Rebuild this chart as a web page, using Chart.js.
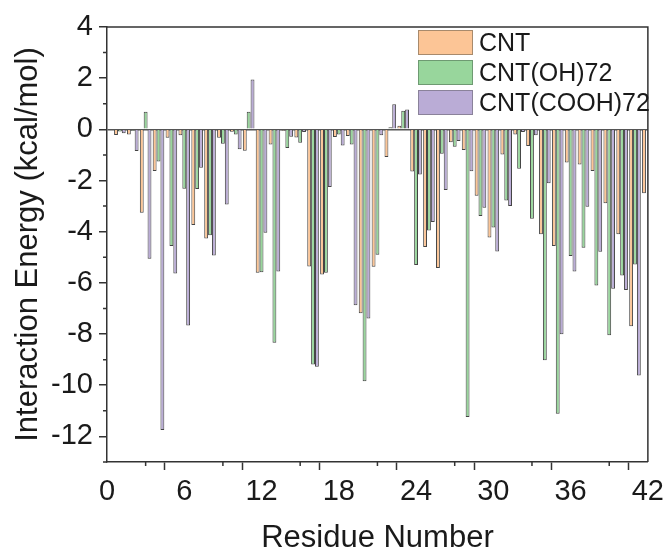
<!DOCTYPE html>
<html>
<head>
<meta charset="utf-8">
<script src="https://cdn.jsdelivr.net/npm/chart.js@4.4.0/dist/chart.umd.min.js"></script>
<style>
  body { margin: 0; background: #fff; }
  #wrap { position: relative; width: 669px; height: 554px; }
  #legend {
    position: absolute; left: 418px; top: 30px;
    font-family: "Liberation Sans", Arial, sans-serif; font-size: 25px; color: #1a1a1a;
  }
  .item { display: flex; align-items: center; height: 25px; margin-bottom: 5px; }
  .swatch { width: 53px; height: 23px; border: 1px solid; margin-right: 6px; }
</style>
</head>
<body>
<div id="wrap">
  <canvas id="myChart" width="669" height="554"></canvas>
  <div id="legend"></div>
</div>
<script>
// residues on the x axis
var residues = [1,2,3,4,5,6,7,8,9,10,11,12,13,14,15,16,17,18,19,20,21,
                22,23,24,25,26,27,28,29,30,31,32,33,34,35,36,37,38,39,40,41,42];

// interaction energy (kcal/mol) per residue
var cnt = [-0.22,-0.2,-3.26,-1.63,-0.33,-0.23,-3.74,-4.27,-0.33,-0.09,-0.84,
           -5.6,-0.59,-0.05,-0.32,-5.36,-5.67,-0.3,-0.26,-7.19,-5.37,
           -1.08,0.14,-1.65,-4.6,-5.42,-0.5,-0.81,-2.59,-4.23,-0.98,
           -0.2,-0.65,-4.1,-4.56,-1.3,-1.37,-1.63,-2.89,-4.1,-7.69,-2.5];
var cntOH = [-0.08,-0.05,0.69,-1.26,-4.56,-2.32,-2.33,-4.14,-0.56,-0.2,0.69,
             -5.58,-8.34,-0.73,-0.52,-9.19,-5.6,-0.2,-0.59,-9.84,-4.9,
             0.08,0.73,-5.3,-3.95,-0.95,-0.68,-11.24,-3.39,-3.84,-2.78,
             -1.54,-3.49,-9.02,-11.11,-4.95,-4.63,-6.1,-8.05,-5.71,-5.28,null];
var cntCOOH = [-0.15,-0.85,-5.06,-11.75,-5.63,-7.67,-1.5,-4.93,-2.94,-0.78,1.95,
               -4.04,-5.56,-0.29,-0.1,-9.28,-2.25,-0.63,-6.87,-7.39,-0.23,
               0.98,0.78,-1.76,-3.62,-2.37,-0.46,-1.64,-3.06,-4.77,-3.0,
               -0.1,-0.23,-2.11,-8.01,-5.56,-3.02,-4.78,-6.23,-6.28,-9.62,null];

var seriesNames = ["CNT", "CNT(OH)72", "CNT(COOH)72"];
var fillColors = ["#FCC596", "#98D69C", "#BAACD6"];
var legendBorders = ["#a88a6c", "#6e9a72", "#8a829a"];

Chart.defaults.font.family = '"Liberation Sans", Arial, sans-serif';
Chart.defaults.color = "#1a1a1a";

// box round the plot (top and right) + short minor ticks
var frame = {
  id: "frame",
  afterDraw: function (chart) {
    var a = chart.chartArea, c = chart.ctx;
    c.save();
    c.strokeStyle = "#333";
    c.lineWidth = 1.5;
    c.beginPath();
    c.moveTo(a.left, a.top);
    c.lineTo(a.right, a.top);
    c.lineTo(a.right, a.bottom);
    c.stroke();

    // minor ticks: odd values on y, odd multiples of 3 on x
    c.beginPath();
    chart.scales.y.ticks.forEach(function (t) {
      if (t.value % 2 !== 0) {
        var py = chart.scales.y.getPixelForValue(t.value);
        c.moveTo(a.left, py);
        c.lineTo(a.left - 4, py);
      }
    });
    chart.scales.x.ticks.forEach(function (t) {
      if (t.value % 6 !== 0) {
        var px = chart.scales.x.getPixelForValue(t.value);
        c.moveTo(px, a.bottom);
        c.lineTo(px, a.bottom + 4);
      }
    });
    c.stroke();
    c.restore();
  }
};

var allData = [cnt, cntOH, cntCOOH];
var datasets = allData.map(function (d, i) {
  return {
    label: seriesNames[i],
    data: d,
    backgroundColor: fillColors[i],
    borderColor: "#444",
    borderWidth: 1,
    categoryPercentage: 0.9,
    barPercentage: 1.0
  };
});

function majorTick(step) {
  return function (ctx) {
    return ctx.tick && ctx.tick.value % step === 0 ? "#333" : "rgba(0,0,0,0)";
  };
}

new Chart("myChart", {
  type: "bar",
  data: { labels: residues, datasets: datasets },
  plugins: [frame],
  options: {
    responsive: false,
    devicePixelRatio: 1,
    animation: false,
    layout: { padding: { left: 0, top: 27, right: 19, bottom: 0 } },
    plugins: { legend: { display: false }, tooltip: { enabled: false } },
    scales: {
      x: {
        type: "linear",
        min: 0, max: 42,
        offset: false,
        afterFit: function (s) { s.height = 92; },
        border: { display: true, color: "#333", width: 1.5 },
        grid: { drawOnChartArea: false, drawTicks: true, tickLength: 8, tickColor: majorTick(6), tickWidth: 1.5 },
        ticks: {
          stepSize: 3, autoSkip: false, maxRotation: 0, padding: 5,
          font: { size: 29 },
          callback: function (v) { return v % 6 === 0 ? v : ""; }
        },
        title: { display: true, text: "Residue Number", font: { size: 31, lineHeight: 1 }, padding: { top: 0, bottom: 0 } }
      },
      y: {
        min: -13, max: 4,
        afterFit: function (s) { s.width = 107; },
        border: { display: true, color: "#333", width: 1.5 },
        grid: {
          drawOnChartArea: true, drawTicks: true, tickLength: 8, tickColor: majorTick(2), tickWidth: 1.5,
          color: function (ctx) { return ctx.tick && ctx.tick.value === 0 ? "#555" : "rgba(0,0,0,0)"; },
          lineWidth: 1.5
        },
        ticks: {
          stepSize: 1, autoSkip: false, padding: 6,
          font: { size: 29 },
          callback: function (v) { return v % 2 === 0 ? v : ""; }
        },
        title: { display: true, text: "Interaction Energy (kcal/mol)", font: { size: 31, lineHeight: 1 }, padding: { top: 13, bottom: 0 } }
      }
    }
  }
});

// legend inside the plot, top right
var legend = document.getElementById("legend");
seriesNames.forEach(function (name, i) {
  var item = document.createElement("div");
  item.className = "item";
  var sw = document.createElement("div");
  sw.className = "swatch";
  sw.style.background = fillColors[i];
  sw.style.borderColor = legendBorders[i];
  var txt = document.createElement("span");
  txt.textContent = name;
  item.appendChild(sw);
  item.appendChild(txt);
  legend.appendChild(item);
});
</script>
</body>
</html>
